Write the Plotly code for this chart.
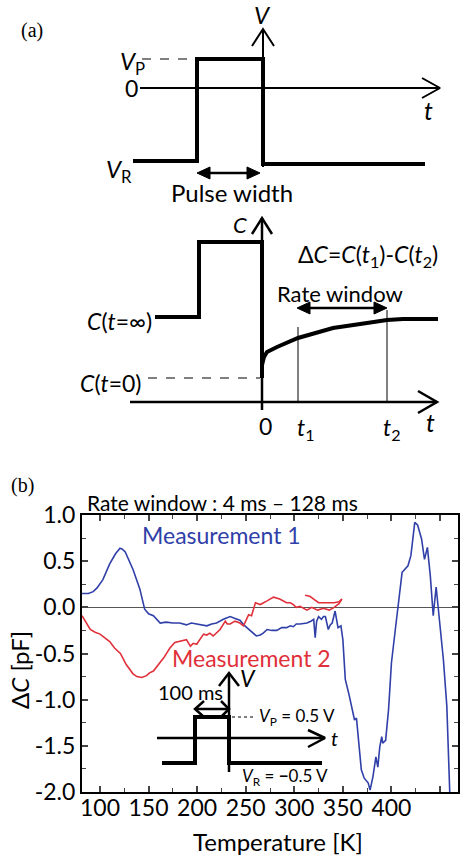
import plotly.graph_objects as go

# ---------------- data: panel (b) ----------------
m1_T = [81.5, 88, 93, 97, 103, 110, 116, 120.6, 123, 126, 134, 141, 146, 150, 155, 162, 168, 175, 182, 189,
        194, 200, 205, 210, 215, 220, 227, 234, 239, 244, 248, 253, 258, 261, 265, 268, 272, 277, 282, 287,
        292, 296, 299, 302, 306, 310, 313, 317, 320, 321.5, 323, 325, 328, 330, 332, 335, 337, 339, 342, 345,
        348, 350, 351, 352.5, 356, 359, 362, 364, 367, 369, 372, 376, 378, 381, 384, 386, 388, 390, 391, 394,
        397, 400, 404, 407, 411, 412, 417, 420, 424, 427, 431, 434, 437, 440, 443, 446, 448, 449.7, 452, 453.5,
        457, 459, 460]
m1_dC = [0.15, 0.15, 0.17, 0.21, 0.30, 0.47, 0.58, 0.64, 0.63, 0.60, 0.41, 0.20, -0.02, -0.07, -0.09, -0.17, -0.16, -0.17, -0.17, -0.19,
         -0.17, -0.18, -0.19, -0.20, -0.18, -0.17, -0.13, -0.10, -0.12, -0.14, -0.19, -0.24, -0.29, -0.31, -0.30, -0.28, -0.24, -0.25, -0.25, -0.22,
         -0.22, -0.20, -0.21, -0.18, -0.18, -0.17, -0.17, -0.15, -0.13, -0.33, -0.15, -0.10, -0.13, -0.10, -0.10, -0.24, -0.19, -0.17, -0.04, -0.22,
         -0.20, -0.35, -0.49, -0.78, -0.93, -1.07, -1.22, -1.20, -1.51, -1.76, -1.85, -1.90, -1.98, -1.83, -1.62, -1.73, -1.51, -1.40, -1.47, -1.44,
         -1.11, -0.60, -0.24, 0.01, 0.38, 0.39, 0.45, 0.56, 0.92, 0.89, 0.74, 0.52, 0.65, 0.34, -0.09, 0.22, 0.00, -0.13, -0.42, -0.57,
         -1.07, -1.73, -2.0]

m2_T = [81.5, 85, 90, 95, 100, 105, 110, 115, 121, 127, 134, 138, 143, 148, 151, 155, 162, 166, 169, 172,
        177, 181, 184, 189, 193, 196, 199.5, 203, 206.6, 210, 213, 216.5, 220, 223.6, 229, 231, 234, 239, 244, 247.6,
        250, 253, 256, 258, 260, 265, 268, 272, 278.6, 285, 292, 296, 299, 302, 306, 309, 313, 318, 324, 330,
        336, 341, 346, 349, None, 311, 316, 320, 325, 333, 341, 346, 349]
m2_dC = [-0.09, -0.15, -0.24, -0.27, -0.29, -0.33, -0.37, -0.44, -0.50, -0.62, -0.72, -0.75, -0.76, -0.74, -0.71, -0.69, -0.60, -0.54, -0.49, -0.44,
         -0.38, -0.37, -0.37, -0.35, -0.42, -0.39, -0.40, -0.35, -0.29, -0.30, -0.28, -0.31, -0.27, -0.24, -0.15, -0.18, -0.18, -0.15, -0.17, -0.20,
         -0.15, -0.08, -0.09, -0.02, 0.05, 0.03, 0.05, 0.07, 0.11, 0.09, 0.05, 0.05, 0.03, 0.00, 0.01, -0.01, -0.03, 0.00, -0.03, -0.01,
         -0.03, 0.00, 0.04, 0.09, None, 0.13, 0.12, 0.09, 0.05, 0.05, 0.05, 0.06, 0.09]

x_ticks = [100, 150, 200, 250, 300, 350, 400, 450]
y_ticks = [1.0, 0.5, 0.0, -0.5, -1.0, -1.5, -2.0]
y_ticklabels = ["1.0", "0.5", "0.0", "-0.5", "-1.0", "-1.5", "-2.0"]

# ---------------- schematic geometry (drawing units = page pixels) ----------------
a_pulse_x = [133, 197, 197, 263, 263, 425]
a_pulse_y = [161, 161, 59, 59, 164, 164]
a_vaxis_x = [263, 263]
a_vaxis_y = [167, 29]
a_vhead_x = [252, 263, 274]
a_vhead_y = [46, 29, 46]
a_taxis_x = [140, 440]
a_taxis_y = [88, 88]
a_thead_x = [422, 440, 422]
a_thead_y = [78, 88, 98]
a_vp_dash_x = [142, 195]
a_vp_dash_y = [59, 59]

c_curve_x = [155, 199, 199, 262, 262, None, 262, 264, 267, 277, 298, 333, 367, 387, 403, 438]
c_curve_y = [317, 317, 242, 242, 378, None, 365, 357, 352, 347, 338, 328, 323, 320, 319, 319]
c_axis_x = [262, 262]
c_axis_y = [410, 218]
c_ahead_x = [252, 262, 272]
c_ahead_y = [234, 218, 234]
c_taxis_x = [130, 437]
c_taxis_y = [402, 402]
c_thead_x = [418, 437, 418]
c_thead_y = [391, 402, 413]
c_t1_x = [298, 298]
c_t1_y = [327, 402]
c_t2_x = [387, 387]
c_t2_y = [310, 402]
c_c0_dash_x = [148, 260]
c_c0_dash_y = [378, 378]

ins_pulse_x = [162, 195, 195, 229, 229, 322]
ins_pulse_y = [763, 763, 717, 717, 763, 763]
ins_vaxis_x = [229, 229]
ins_vaxis_y = [772, 673]
ins_vhead_x = [219, 229, 239]
ins_vhead_y = [686, 673, 686]
ins_taxis_x = [157, 325]
ins_taxis_y = [738, 738]
ins_thead_x = [308, 325, 308]
ins_thead_y = [730, 738, 747]
ins_dot_x = [232, 256]
ins_dot_y = [717, 717]

fig = go.Figure()

BLUE = "#3040a8"
RED = "#e0303a"

fig.add_trace(go.Scatter(x=m1_T, y=m1_dC, mode="lines", line=dict(color=BLUE, width=1.6),
                         connectgaps=False, hoverinfo="skip", showlegend=False))
fig.add_trace(go.Scatter(x=m2_T, y=m2_dC, mode="lines", line=dict(color=RED, width=1.6),
                         connectgaps=False, hoverinfo="skip", showlegend=False))


def sline(xs, ys, w=2, dash=None, color="black"):
    fig.add_trace(go.Scatter(x=xs, y=ys, mode="lines", xaxis="x2", yaxis="y2",
                             line=dict(color=color, width=w, dash=dash),
                             hoverinfo="skip", showlegend=False))


def sfill(xs, ys):
    fig.add_trace(go.Scatter(x=xs + [xs[0]], y=ys + [ys[0]], mode="lines", fill="toself",
                             fillcolor="black", xaxis="x2", yaxis="y2",
                             line=dict(color="black", width=1), hoverinfo="skip", showlegend=False))


def dbl_arrow(x0, x1, y, head=13, half=6, w=2.5):
    sline([x0 + head - 2, x1 - head + 2], [y, y], w)
    sfill([x0, x0 + head, x0 + head], [y, y - half, y + half])
    sfill([x1, x1 - head, x1 - head], [y, y - half, y + half])


# panel (a) top
sline(a_taxis_x, a_taxis_y, 2)
sline(a_thead_x, a_thead_y, 2)
sline(a_vaxis_x, a_vaxis_y, 2)
sline(a_vhead_x, a_vhead_y, 2)
sline(a_vp_dash_x, a_vp_dash_y, 1, "dash")
sline(a_pulse_x, a_pulse_y, 4)
dbl_arrow(197, 260, 173)

# panel (a) bottom
sline(c_taxis_x, c_taxis_y, 2.5)
sline(c_thead_x, c_thead_y, 2.5)
sline(c_axis_x, c_axis_y, 2.5)
sline(c_ahead_x, c_ahead_y, 2.5)
sline(c_t1_x, c_t1_y, 1)
sline(c_t2_x, c_t2_y, 1)
sline(c_c0_dash_x, c_c0_dash_y, 1, "dash")
sline(c_curve_x, c_curve_y, 4)
dbl_arrow(297, 387, 308)

# inset
sline(ins_taxis_x, ins_taxis_y, 2.5)
sline(ins_thead_x, ins_thead_y, 2.5)
sline(ins_vaxis_x, ins_vaxis_y, 2.5)
sline(ins_vhead_x, ins_vhead_y, 2.5)
sline(ins_dot_x, ins_dot_y, 1, "dot")
sline(ins_pulse_x, ins_pulse_y, 4)
sline([204, 195, 204], [701, 709, 717], 2.5)
sline([221, 229, 221], [701, 709, 717], 2.5)
sline([195, 229], [709, 709], 2.5)

FONT = "Lato"
SERIF = "Liberation Serif"
ann = []


def txt(x, y, s, size=20, color="black", xanchor="center", family=FONT):
    ann.append(dict(x=x, y=y, xref="x2", yref="y2", text=s, showarrow=False,
                    xanchor=xanchor, yanchor="middle", font=dict(family=family, size=size, color=color)))


txt(32, 30, "(a)", 20, family=SERIF)
txt(262, 14, "<i>V</i>", 24)
txt(147, 62, "<i>V</i><sub>P</sub>", 24, xanchor="right")
txt(131, 88, "0", 23)
txt(428, 110, "<i>t</i>", 25)
txt(119, 170, "<i>V</i><sub>R</sub>", 24)
txt(232, 192, "Pulse width", 24)
txt(240, 224, "<i>C</i>", 22)
txt(368, 255, "Δ<i>C</i>=<i>C</i>(<i>t</i><sub>1</sub>)-<i>C</i>(<i>t</i><sub>2</sub>)", 23)
txt(340, 293, "Rate window", 22)
txt(154, 321, "<i>C</i>(<i>t</i>=∞)", 23, xanchor="right")
txt(144, 383, "<i>C</i>(<i>t</i>=0)", 23, xanchor="right")
txt(265, 426, "0", 23)
txt(306, 428, "<i>t</i><sub>1</sub>", 23)
txt(392, 428, "<i>t</i><sub>2</sub>", 23)
txt(430, 422, "<i>t</i>", 25)

txt(22, 485, "(b)", 20, family=SERIF)
txt(85, 502, "Rate window : 4 ms – 128 ms", 21, xanchor="left")
txt(221, 535, "Measurement 1", 23, color=BLUE)
txt(251, 658, "Measurement 2", 23, color=RED)
txt(190, 692, "100 ms", 20)
txt(248, 678, "<i>V</i>", 23)
txt(257, 717, "<i>V</i><sub>P</sub> = 0.5 V", 17, xanchor="left")
txt(240, 777, "<i>V</i><sub>R</sub> = <b>−</b>0.5 V", 17, xanchor="left")
txt(334, 738, "<i>t</i>", 20)
txt(278, 841, "Temperature [K]", 24)
ann.append(dict(x=19, y=670, xref="x2", yref="y2", text="Δ<i>C</i> [pF]", showarrow=False, textangle=-90,
                xanchor="center", yanchor="middle", font=dict(family=FONT, size=24, color="black")))

W, H = 460, 856
fig.update_layout(
    width=W, height=H, margin=dict(l=0, r=0, t=0, b=0, pad=0, autoexpand=False),
    paper_bgcolor="white", plot_bgcolor="rgba(0,0,0,0)",
    showlegend=False, annotations=ann,
    xaxis=dict(domain=[82 / W, 458 / W], range=[81.5, 468.5], anchor="y", automargin=False,
               tickmode="array", tickvals=x_ticks, ticks="inside", ticklen=6, tickwidth=1.5,
               showline=True, linecolor="black", linewidth=2, mirror="ticks", showgrid=False,
               zeroline=False, ticklabelstandoff=-6,
               tickfont=dict(family=FONT, size=23, color="black"),
               minor=dict(dtick=25, tick0=0, ticks="inside", ticklen=4, tickwidth=1.2, showgrid=False)),
    yaxis=dict(domain=[1 - 792 / H, 1 - 515 / H], range=[-2.0, 1.0], anchor="x", automargin=False,
               tickmode="array", tickvals=y_ticks, ticktext=y_ticklabels, ticks="inside", ticklen=6, tickwidth=1.5,
               showline=True, linecolor="black", linewidth=2, mirror="ticks", showgrid=False,
               zeroline=True, zerolinecolor="#555555", zerolinewidth=1,
               tickfont=dict(family=FONT, size=23, color="black"),
               minor=dict(dtick=0.25, tick0=0, ticks="inside", ticklen=4, tickwidth=1.2, showgrid=False)),
    xaxis2=dict(domain=[0, 1], range=[0, W], anchor="y2", visible=False, fixedrange=True, automargin=False),
    yaxis2=dict(domain=[0, 1], range=[H, 0], anchor="x2", visible=False, fixedrange=True, automargin=False),
)

fig.write_html("out.html")
